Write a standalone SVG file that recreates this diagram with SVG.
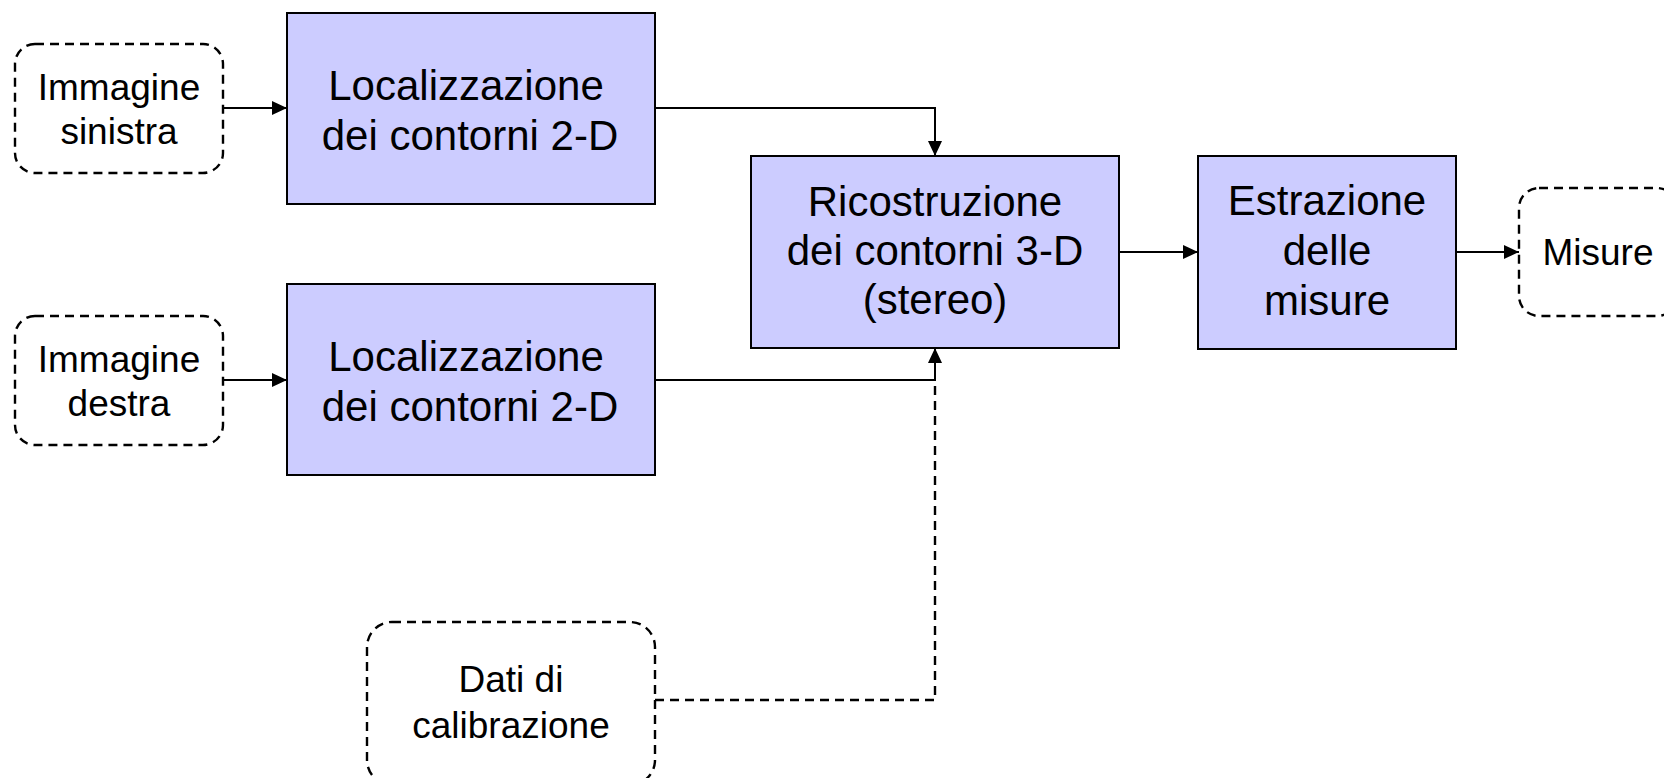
<svg xmlns="http://www.w3.org/2000/svg" width="1664" height="778" viewBox="0 0 1664 778">
  <defs>
    <marker id="arrow" viewBox="0 0 15 14" refX="15" refY="7" markerWidth="15" markerHeight="14" markerUnits="userSpaceOnUse" orient="auto">
      <path d="M0,0 L15,7 L0,14 Z" fill="#000"/>
    </marker>
    <style>
      .proc { fill: #CCCCFF; stroke: #000; stroke-width: 2; }
      .term { fill: #FFFFFF; stroke: #000; stroke-width: 2.4; stroke-dasharray: 9 6; }
      .big { font-family: "Liberation Sans", Arial, sans-serif; font-size: 42px; fill: #000; text-anchor: middle; }
      .small { font-family: "Liberation Sans", Arial, sans-serif; font-size: 37px; fill: #000; text-anchor: middle; }
      .conn { fill: none; stroke: #000; stroke-width: 2; }
      .dash { fill: none; stroke: #000; stroke-width: 2.4; stroke-dasharray: 9 6; }
    </style>
  </defs>
  <rect width="1664" height="778" fill="#FFFFFF"/>

  <g id="connectors">
    <line class="conn" x1="223" y1="108" x2="287" y2="108" marker-end="url(#arrow)"/>
    <line class="conn" x1="223" y1="380" x2="287" y2="380" marker-end="url(#arrow)"/>
    <polyline class="conn" points="655,108 935,108 935,156" marker-end="url(#arrow)"/>
    <polyline class="conn" points="655,380 935,380"/>
    <polyline class="dash" points="655,700 935,700 935,381"/>
    <line class="conn" x1="935" y1="381" x2="935" y2="348" marker-end="url(#arrow)"/>
    <line class="conn" x1="1119" y1="252" x2="1198" y2="252" marker-end="url(#arrow)"/>
    <line class="conn" x1="1456" y1="252" x2="1519" y2="252" marker-end="url(#arrow)"/>
  </g>

  <g id="immagine-sinistra">
    <rect class="term" x="15" y="44" width="208" height="129" rx="20" ry="20"/>
    <text class="small" x="119" y="100">Immagine</text>
    <text class="small" x="119" y="144">sinistra</text>
  </g>

  <g id="immagine-destra">
    <rect class="term" x="15" y="316" width="208" height="129" rx="20" ry="20"/>
    <text class="small" x="119" y="372">Immagine</text>
    <text class="small" x="119" y="416">destra</text>
  </g>

  <g id="localizzazione-1">
    <rect class="proc" x="287" y="13" width="368" height="191"/>
    <text class="big" x="466" y="100">Localizzazione</text>
    <text class="big" x="470" y="150">dei contorni 2-D</text>
  </g>

  <g id="localizzazione-2">
    <rect class="proc" x="287" y="284" width="368" height="191"/>
    <text class="big" x="466" y="371">Localizzazione</text>
    <text class="big" x="470" y="421">dei contorni 2-D</text>
  </g>

  <g id="ricostruzione">
    <rect class="proc" x="751" y="156" width="368" height="192"/>
    <text class="big" x="935" y="216">Ricostruzione</text>
    <text class="big" x="935" y="265">dei contorni 3-D</text>
    <text class="big" x="935" y="314">(stereo)</text>
  </g>

  <g id="estrazione">
    <rect class="proc" x="1198" y="156" width="258" height="193"/>
    <text class="big" x="1327" y="215">Estrazione</text>
    <text class="big" x="1327" y="265">delle</text>
    <text class="big" x="1327" y="315">misure</text>
  </g>

  <g id="misure">
    <rect class="term" x="1519" y="188" width="158" height="128" rx="20" ry="20"/>
    <text class="small" x="1598" y="265">Misure</text>
  </g>

  <g id="dati-calibrazione">
    <rect class="term" x="367" y="622" width="288" height="163" rx="25" ry="25"/>
    <text class="small" x="511" y="692">Dati di</text>
    <text class="small" x="511" y="738">calibrazione</text>
  </g>
</svg>
